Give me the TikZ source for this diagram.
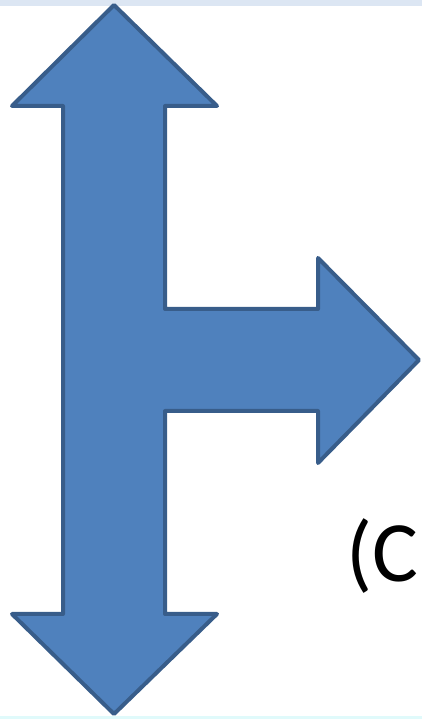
\documentclass[tikz,border=0pt]{standalone}
\usepackage{fontspec}
\setmainfont{Carlito}
\definecolor{arrowfill}{HTML}{4F81BD}
\definecolor{arrowline}{HTML}{385D8A}
\definecolor{topstrip}{HTML}{DCE6F3}
\definecolor{botstrip}{HTML}{E0FAFB}
\tikzset{
  shapearrow/.style={fill=arrowfill, draw=arrowline, line width=4pt, line join=round},
  labeltext/.style={font=\fontsize{86}{86}\selectfont, inner sep=0pt, anchor=base west}
}
\begin{document}
\begin{tikzpicture}[x=1pt,y=1pt]
\useasboundingbox (0,0) rectangle (422,719);
\fill[topstrip] (0,713) rectangle (422,719);
\fill[botstrip] (0,0) rectangle (422,2.5);
% arrow shape (y = 719 - pixel y)
\draw[shapearrow]
  (114,714) -- (217,613) -- (165,613) -- (165,410) -- (318,410) -- (318,461)
  -- (419,359) -- (318,256) -- (318,308) -- (165,308) -- (165,105) -- (217,105)
  -- (114,5) -- (12,105) -- (63,105) -- (63,613) -- (12,613) -- cycle;
\node[labeltext] (lbl) at (346,137) {(C};
\end{tikzpicture}
\end{document}
